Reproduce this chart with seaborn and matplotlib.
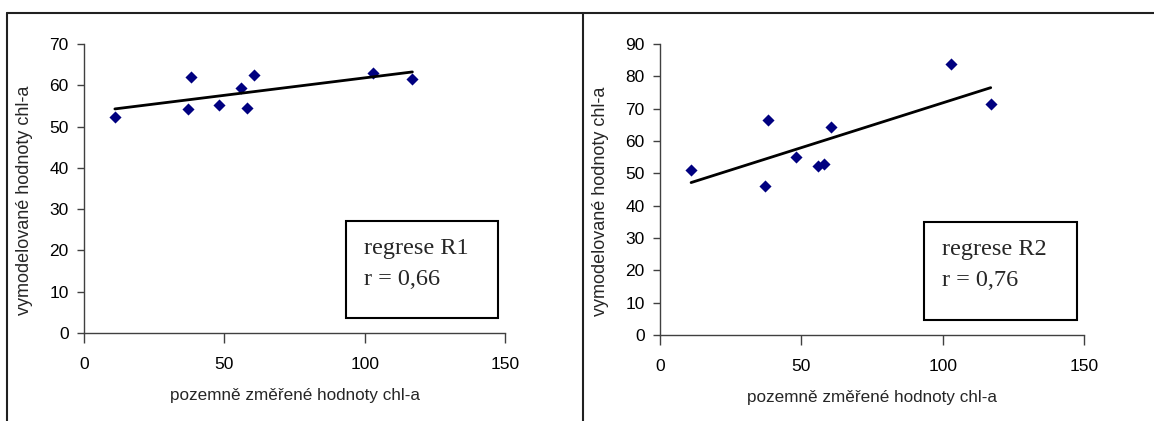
import numpy as np
import pandas as pd
import matplotlib
matplotlib.use("Agg")
import matplotlib.pyplot as plt
from matplotlib.lines import Line2D
from matplotlib.patches import Rectangle
import seaborn as sns

# ground measured chl-a (same for both regressions)
ground = [11.0, 37.0, 38.2, 48.2, 56.0, 58.0, 60.4, 103.0, 117.0]
# modelled chl-a values
model_r1 = [52.4, 54.2, 61.9, 55.2, 59.4, 54.6, 62.6, 63.0, 61.5]
model_r2 = [51.0, 46.2, 66.4, 55.2, 52.4, 52.8, 64.2, 83.7, 71.4]

panels = [
    ("regrese R1", "r = 0,66", model_r1, [0, 70]),
    ("regrese R2", "r = 0,76", model_r2, [0, 90]),
]

sns.set_style("ticks")
plt.rcParams["font.family"] = ["Liberation Sans", "DejaVu Sans"]

W, H = 1154, 421
fig = plt.figure(figsize=(W / 100, H / 100), dpi=100)

# axes placement in pixels: left, top, right, bottom
boxes = [(84, 44, 505, 333), (660, 44, 1084, 335)]

for (name, rtext, yvals, ylim), (l, t, r, b) in zip(panels, boxes):
    ax = fig.add_axes([l / W, (H - b) / H, (r - l) / W, (b - t) / H])
    df = pd.DataFrame({"x": ground, "y": yvals})
    sns.regplot(data=df, x="x", y="y", ax=ax, ci=None, truncate=True,
                marker="D",
                scatter_kws={"color": "#000080", "s": 38, "alpha": 1, "linewidths": 0},
                line_kws={"color": "black", "lw": 2})
    ax.set_xlim(0, 150)
    ax.set_ylim(*ylim)
    ax.set_xticks([0, 50, 100, 150])
    ax.set_yticks(np.arange(ylim[0], ylim[1] + 1, 10))
    sns.despine(ax=ax)
    for s in ["left", "bottom"]:
        ax.spines[s].set_color("#404040")
        ax.spines[s].set_linewidth(1)
    ax.tick_params(axis="both", width=1, color="#404040",
                   labelsize=12.5, labelcolor="black")
    ax.tick_params(axis="y", length=5, pad=6)
    ax.tick_params(axis="x", length=7, pad=10)
    ax.set_xlabel("pozemně změřené hodnoty chl-a", fontsize=12.3)
    ax.set_ylabel("vymodelované hodnoty chl-a", fontsize=13)
    ax.yaxis.set_label_coords(-0.12, 0.46)
    ax.xaxis.set_label_coords(0.5, -0.19)
    ax.add_patch(Rectangle((0.623, 0.053), 0.36, 0.334, transform=ax.transAxes,
                           fill=False, edgecolor="black", lw=1.5, clip_on=False))
    ax.text(0.665, 0.294, name, transform=ax.transAxes, fontsize=17.5,
            family="Liberation Serif", va="center", ha="left")
    ax.text(0.665, 0.186, rtext, transform=ax.transAxes, fontsize=17.5,
            family="Liberation Serif", va="center", ha="left")

# panel frames
def fline(x0, y0, x1, y1):
    fig.add_artist(Line2D([x0 / W, x1 / W], [(H - y0) / H, (H - y1) / H],
                          transform=fig.transFigure, color="#202020", lw=1.5))

fline(7, 13, W, 13)
fline(7, 13, 7, H)
fline(582.5, 13, 582.5, H)

fig.savefig("out.png", dpi=100)
